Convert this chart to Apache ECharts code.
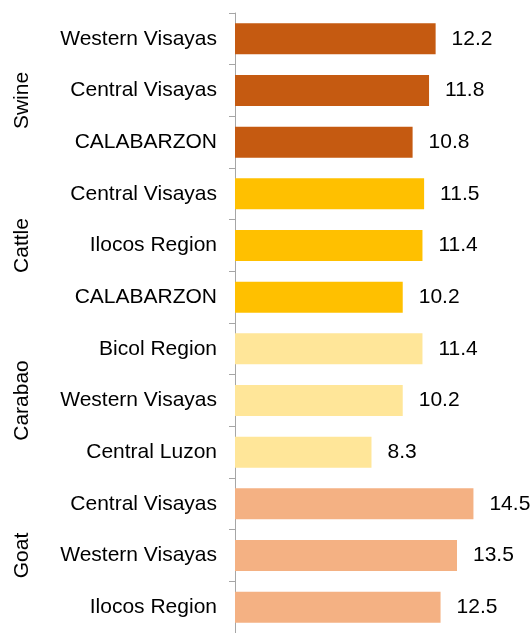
<!DOCTYPE html>
<html><head><meta charset="utf-8">
<script src="https://cdn.jsdelivr.net/npm/echarts@6/dist/echarts.min.js"></script>
<style>html,body{margin:0;padding:0;background:#fff}#c{width:532px;height:633px}</style>
</head><body><div id="c"></div>
<script>
const regions = ['Western Visayas','Central Visayas','CALABARZON','Central Visayas','Ilocos Region','CALABARZON','Bicol Region','Western Visayas','Central Luzon','Central Visayas','Western Visayas','Ilocos Region'];
const values = [12.2,11.8,10.8,11.5,11.4,10.2,11.4,10.2,8.3,14.5,13.5,12.5];
const groups = ['Swine','Cattle','Carabao','Goat'];
const groupColors = ['#C55A11','#FFC000','#FFE699','#F4B183'];
const groupOf = [0,0,0,1,1,1,2,2,2,3,3,3];
const font = '"Liberation Sans", Arial, sans-serif';
const chart = echarts.init(document.getElementById('c'));
chart.setOption({
  animation:false,
  grid:{left:235,top:13,width:296,height:625,containLabel:false},
  xAxis:{type:'value',min:0,max:18,show:false},
  yAxis:[{
    type:'category',data:regions.map((r,i)=>String(i)),inverse:true,
    axisLine:{show:true,lineStyle:{color:'#A6A6A6',width:1}},
    axisTick:{show:true,interval:0,length:6,lineStyle:{color:'#A6A6A6',width:1}},
    axisLabel:{interval:0,margin:18,fontSize:21,color:'#000',fontFamily:font,formatter:(v,i)=>regions[i]},
    splitLine:{show:false}
  },{
    type:'category',inverse:true,position:'left',
    data:groups.map((g,i)=>i===0?{value:g,textStyle:{padding:[0,20,0,0]}}:g),
    axisLine:{show:false},axisTick:{show:false},splitLine:{show:false},
    axisLabel:{interval:0,rotate:90,margin:202,fontSize:21,color:'#000',fontFamily:font}
  }],
  series:[{
    type:'bar',yAxisIndex:0,barCategoryGap:'40%',
    data:values.map((v,i)=>({value:v,itemStyle:{color:groupColors[groupOf[i]]}})),
    label:{show:true,position:'right',distance:16,fontSize:21,color:'#000',fontFamily:font,formatter:p=>p.value.toFixed(1)}
  }]
});
</script></body></html>
